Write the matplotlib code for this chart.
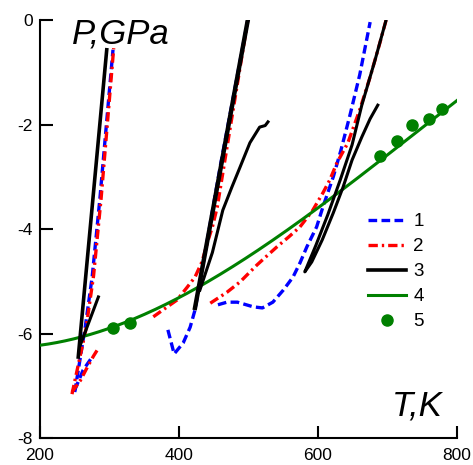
import numpy as np
import matplotlib
matplotlib.use('Agg')
import matplotlib.pyplot as plt

plt.rcParams['font.family'] = ['Liberation Sans', 'DejaVu Sans']

# curve 1 (blue dashed), several pieces
t1a = [250, 265, 275, 286, 305]
p1a = [-7.12, -5.88, -4.92, -3.44, -0.57]
t1b = [250, 262, 275]
p1b = [-7.08, -6.70, -6.45]
t1c = [384, 393, 406, 416, 423, 460, 499]
p1c = [-5.93, -6.39, -6.18, -5.88, -5.55, -2.75, 0.0]
t1d = [456, 469, 484, 507, 520, 535, 550, 564, 574, 584, 598, 607, 622, 633, 646, 660, 675]
p1d = [-5.45, -5.40, -5.40, -5.49, -5.51, -5.40, -5.17, -4.92, -4.65, -4.34, -3.96, -3.58, -3.00, -2.49, -1.82, -1.05, -0.04]

# curve 2 (red dash-dot)
t2a = [246, 266, 277, 288, 306]
p2a = [-7.16, -5.92, -4.90, -3.40, -0.54]
t2b = [246, 258, 269, 277, 285]
p2b = [-7.12, -6.90, -6.62, -6.43, -6.26]
t2c = [363, 383, 397, 412, 423, 433, 442, 448, 455, 499]
p2c = [-5.68, -5.49, -5.36, -5.11, -4.92, -4.63, -4.21, -3.96, -3.58, 0.0]
t2d = [445, 469, 488, 512, 526, 541, 558, 574, 592, 607, 617, 627, 643, 660, 675, 689, 698]
p2d = [-5.42, -5.21, -5.01, -4.69, -4.52, -4.34, -4.15, -3.96, -3.65, -3.31, -3.06, -2.74, -2.35, -1.72, -1.09, -0.44, 0.0]

# curve 3 (black)
t3a = [255, 296]
p3a = [-6.45, -0.57]
t3b = [258, 284]
p3b = [-6.22, -5.30]
t3c = [423, 499]
p3c = [-5.51, 0.0]
t3d = [430, 448, 463, 476, 488, 502, 516, 524, 528]
p3d = [-5.17, -4.45, -3.64, -3.20, -2.81, -2.35, -2.05, -2.02, -1.95]
t3e = [699, 682, 663, 649, 632, 614, 597, 581, 591, 606, 622, 636, 649, 663, 675, 686]
p3e = [0.05, -0.77, -1.63, -2.39, -3.06, -3.73, -4.31, -4.82, -4.63, -4.21, -3.69, -3.20, -2.68, -2.24, -1.89, -1.63]

# curve 4 (green)
t4 = [200, 296, 391, 516, 560, 646, 718, 800]
p4 = [-6.22, -5.93, -5.36, -4.40, -3.98, -3.10, -2.43, -1.53]

# points 5
t5 = [305, 329, 689, 713, 735, 759, 778]
p5 = [-5.90, -5.80, -2.60, -2.31, -2.01, -1.90, -1.70]

fig = plt.figure(figsize=(4.73, 4.65), dpi=100)
ax = fig.add_axes([0.0846, 0.058, 0.8816, 0.899])

lw = 2.4
blue = '#0000ff'
red = '#ff0000'
dash = (0, (2.6, 1.3))
dashdot = (0, (2.8, 1.2, 0.7, 1.2))

ax.plot(t1a, p1a, color=blue, ls=dash, lw=lw, zorder=2, label='1')
for t, p in [(t1b, p1b), (t1c, p1c), (t1d, p1d)]:
    ax.plot(t, p, color=blue, ls=dash, lw=lw, zorder=2)

ax.plot(t2a, p2a, color=red, ls=dashdot, lw=lw, zorder=3, label='2')
for t, p in [(t2b, p2b), (t2c, p2c), (t2d, p2d)]:
    ax.plot(t, p, color=red, ls=dashdot, lw=lw, zorder=3)

ax.plot(t3a, p3a, color='black', lw=2.6, zorder=5, label='3')
ax.plot(t3b, p3b, color='black', lw=2.2, zorder=5)
ax.plot(t3c, p3c, color='black', lw=3.2, zorder=5)
ax.plot(t3d, p3d, color='black', lw=2.2, zorder=5)
ax.plot(t3e, p3e, color='black', lw=2.2, zorder=5)

# smooth green line through read points
tt = np.linspace(200, 800, 200)
cf = np.polyfit(t4, p4, 3)
ax.plot(tt, np.polyval(cf, tt), color='#008000', lw=2.2, zorder=4, label='4')

ax.plot(t5, p5, 'o', color='#008000', ms=8, zorder=6, label='5')

ax.set_xlim(200, 800)
ax.set_ylim(-8, 0)
ax.set_xticks([200, 400, 600, 800])
ax.set_yticks([-8, -6, -4, -2, 0])
ax.set_yticklabels(['-8', '-6', '-4', '-2', '0'])
for s in ['top', 'right']:
    ax.spines[s].set_visible(False)
for s in ['left', 'bottom']:
    ax.spines[s].set_linewidth(1.5)
ax.tick_params(direction='in', length=9, width=1.5, labelsize=12.5)
ax.tick_params(axis='x', pad=7)
ax.tick_params(axis='y', pad=5)
ax.patch.set_alpha(0)

ax.text(0.077, 1.005, 'P,GPa', transform=ax.transAxes, fontsize=25, style='italic',
        va='top', ha='left')
ax.text(0.965, 0.055, 'T,K', transform=ax.transAxes, fontsize=25, style='italic',
        va='baseline', ha='right')

ax.legend(loc='upper left', bbox_to_anchor=(0.765, 0.56), frameon=False, fontsize=13.5,
          handlelength=2.0, handletextpad=0.4, labelspacing=0.42, borderpad=0)

fig.savefig('out.png', dpi=100)
